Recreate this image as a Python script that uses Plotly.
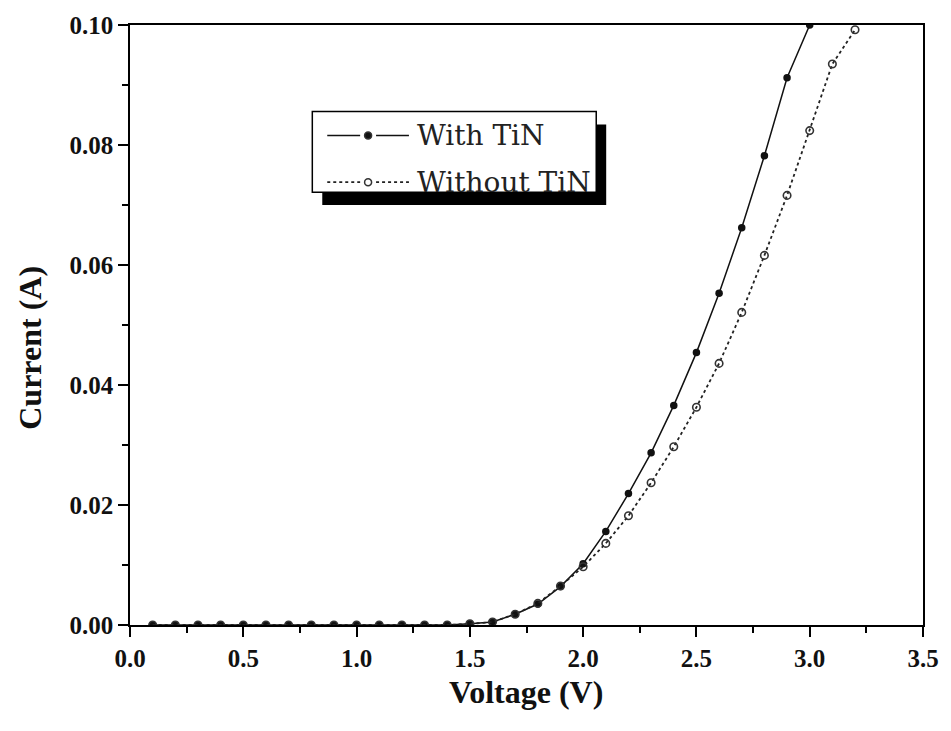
import plotly.graph_objects as go

# ---- data ----
voltage = [0.1, 0.2, 0.3, 0.4, 0.5, 0.6, 0.7, 0.8, 0.9, 1.0, 1.1, 1.2, 1.3, 1.4, 1.5,
           1.6, 1.7, 1.8, 1.9, 2.0, 2.1, 2.2, 2.3, 2.4, 2.5, 2.6, 2.7, 2.8, 2.9, 3.0]
current_with_tin = [0, 0, 0, 0, 0, 0, 0, 0, 0, 0, 0, 0, 0, 0, 0.0002,
                    0.0005, 0.0018, 0.0035, 0.0064, 0.0102, 0.0156, 0.0219, 0.0287, 0.0366, 0.0454,
                    0.0553, 0.0662, 0.0782, 0.0912, 0.1000]
voltage_without = [0.1, 0.2, 0.3, 0.4, 0.5, 0.6, 0.7, 0.8, 0.9, 1.0, 1.1, 1.2, 1.3, 1.4, 1.5,
                   1.6, 1.7, 1.8, 1.9, 2.0, 2.1, 2.2, 2.3, 2.4, 2.5, 2.6, 2.7, 2.8, 2.9, 3.0, 3.1, 3.2]
current_without_tin = [0, 0, 0, 0, 0, 0, 0, 0, 0, 0, 0, 0, 0, 0, 0.0002,
                       0.0005, 0.0018, 0.0036, 0.0065, 0.0097, 0.0136, 0.0182, 0.0237, 0.0297, 0.0363,
                       0.0436, 0.0521, 0.0616, 0.0716, 0.0824, 0.0935, 0.0992]
x_ticks = [0.0, 0.5, 1.0, 1.5, 2.0, 2.5, 3.0, 3.5]
y_ticks = [0.00, 0.02, 0.04, 0.06, 0.08, 0.10]
series_names = ["With TiN", "Without TiN"]

# ---- layout geometry (pixels) ----
W, H = 951, 731
L, R, T, B = 130, 926, 22, 625
FONT = "Liberation Serif, Times New Roman, serif"
LEG_FONT = "DejaVu Serif, serif"

def px(x):
    return (x - L) / (R - L)

def py(y):
    return (B - y) / (B - T)

fig = go.Figure()
fig.add_trace(go.Scatter(
    x=voltage, y=current_with_tin, mode="lines+markers", name=series_names[0],
    line=dict(color="#111111", width=1.5),
    marker=dict(symbol="circle", size=7.5, color="#111111"),
    showlegend=False))
fig.add_trace(go.Scatter(
    x=voltage_without, y=current_without_tin, mode="lines+markers", name=series_names[1],
    line=dict(color="#222222", width=1.8, dash="dot"),
    marker=dict(symbol="circle-open", size=7.5, color="#333333", line=dict(width=1.6)),
    showlegend=False))

axis_common = dict(showline=True, linecolor="black", linewidth=1.5, mirror=True,
                   showgrid=False, zeroline=False, ticks="outside", tickcolor="black",
                   tickwidth=1.5, ticklen=10,
                   tickfont=dict(family=FONT, size=25, color="#111111"))

fig.update_xaxes(range=[0, 3.5], tickvals=x_ticks, ticktext=[f"<b>{v:.1f}</b>" for v in x_ticks],
                 minor=dict(ticks="outside", dtick=0.25, ticklen=6, tickwidth=1.5, tickcolor="black"),
                 **axis_common)
fig.update_yaxes(range=[0, 0.1], tickvals=y_ticks, ticktext=[f"<b>{v:.2f}</b>" for v in y_ticks],
                 minor=dict(ticks="outside", dtick=0.01, ticklen=6, tickwidth=1.5, tickcolor="black"),
                 **axis_common)

# axis titles
fig.add_annotation(xref="paper", yref="paper", x=px(527), y=py(692), xanchor="center", yanchor="middle",
                   text="<b>Voltage (V)</b>", showarrow=False,
                   font=dict(family=FONT, size=32, color="#111111"))
fig.add_annotation(xref="paper", yref="paper", x=px(30), y=py(346), xanchor="center", yanchor="middle",
                   text="<b>Current (A)</b>", showarrow=False, textangle=-90,
                   font=dict(family=FONT, size=32, color="#111111"))

# ---- legend drawn manually with shadow ----
bx0, bx1, by0, by1 = 313, 598, 109, 190
shapes = [
    dict(type="rect", xref="paper", yref="paper", x0=px(bx0 + 10), x1=px(bx1 + 10),
         y0=py(by0 + 13), y1=py(by1 + 13), fillcolor="black", line=dict(width=0), layer="above"),
    dict(type="rect", xref="paper", yref="paper", x0=px(bx0), x1=px(bx1),
         y0=py(by0), y1=py(by1), fillcolor="white", line=dict(color="black", width=1.5), layer="above"),
]
rows = [(133, dict(color="#111111", width=1.5, dash="solid"), True),
        (180, dict(color="#222222", width=1.8, dash="dot"), False)]
for yy, ln, filled in rows:
    shapes.append(dict(type="line", xref="paper", yref="paper", x0=px(328), x1=px(361),
                       y0=py(yy), y1=py(yy), line=ln, layer="above"))
    shapes.append(dict(type="line", xref="paper", yref="paper", x0=px(377), x1=px(410),
                       y0=py(yy), y1=py(yy), line=ln, layer="above"))
    shapes.append(dict(type="circle", xref="paper", yref="paper", xsizemode="pixel", ysizemode="pixel",
                       xanchor=px(369), yanchor=py(yy), x0=-3.5, x1=3.5, y0=-3.5, y1=3.5,
                       fillcolor="#111111" if filled else "white",
                       line=dict(color="#333333", width=1.5), layer="above"))
fig.update_layout(shapes=shapes)
for (yy, _, _), name in zip(rows, series_names):
    fig.add_annotation(xref="paper", yref="paper", x=px(416), y=py(yy), xanchor="left", yanchor="middle",
                       text=name, showarrow=False,
                       font=dict(family=LEG_FONT, size=28, color="#222222"))

fig.update_layout(width=W, height=H, margin=dict(l=L, r=W - R, t=T, b=H - B),
                  plot_bgcolor="white", paper_bgcolor="white", showlegend=False)

fig.write_html("out.html")
